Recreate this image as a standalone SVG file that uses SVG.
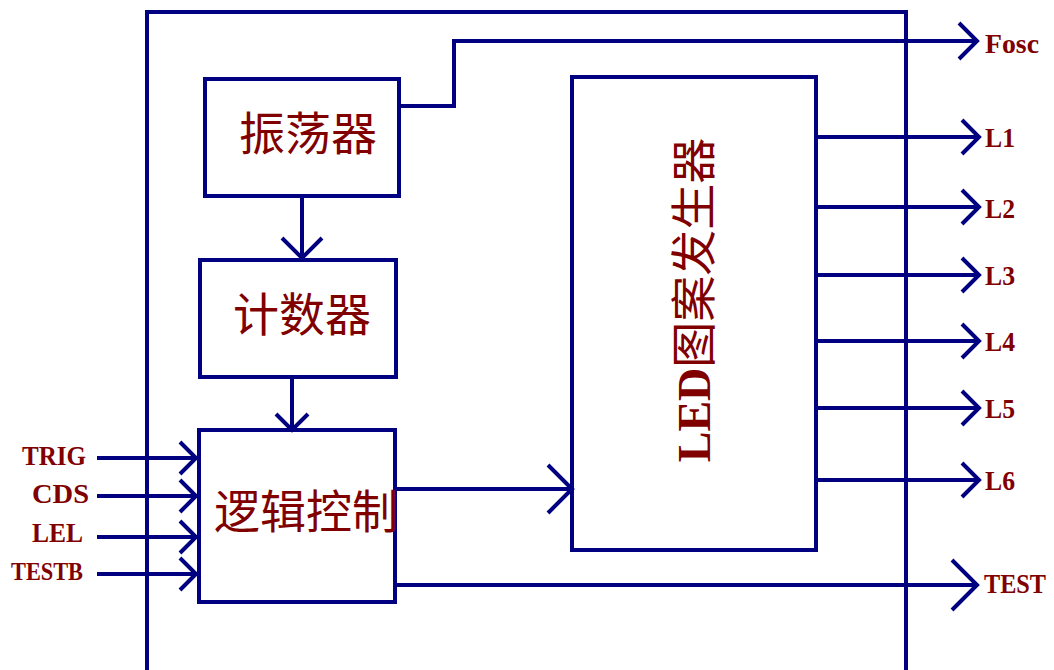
<svg xmlns="http://www.w3.org/2000/svg" width="1054" height="670" viewBox="0 0 1054 670">
<style>
.box{fill:none;stroke:#000080;stroke-width:4}
.ln{fill:none;stroke:#000080;stroke-width:4}
.cn{font-family:"Liberation Serif","Noto Sans CJK SC",serif;font-size:46px;fill:#800000}
.lb{font-family:"Liberation Serif",serif;font-weight:bold;font-size:28px;fill:#800000}
</style>
<rect width="1054" height="670" fill="#ffffff"/>
<g id="frame"><path class="box" d="M147,670 V12 H906 V670"/></g>
<g id="osc"><rect class="box" x="205" y="79" width="194" height="117"/><text class="cn" x="308" y="150" text-anchor="middle">振荡器</text></g>
<g id="counter"><rect class="box" x="200" y="260" width="196" height="117"/><text class="cn" x="302" y="331" text-anchor="middle">计数器</text></g>
<g id="logic"><rect class="box" x="199" y="430" width="196" height="172"/><text class="cn" x="306" y="528" text-anchor="middle">逻辑控制</text></g>
<g id="led"><rect class="box" x="572" y="77" width="244" height="473"/><text class="cn" transform="translate(710,300) rotate(-90)" x="0" y="0" text-anchor="middle"><tspan font-weight="bold">LED</tspan>图案发生器</text></g>
<g id="connectors">
<path class="ln" d="M399,106 H454 V41 H976"/><path class="ln" d="M959,23 L977,41 L959,59"/>
<path class="ln" d="M302,196 V258"/><path class="ln" d="M282,238 L302,258 L322,238"/>
<path class="ln" d="M292,377 V429"/><path class="ln" d="M276,414 L292,430 L308,414"/>
<path class="ln" d="M395,489 H571"/><path class="ln" d="M548,465 L572,489 L548,513"/>
<path class="ln" d="M395,585 H977"/><path class="ln" d="M952,560 L977,585 L952,610"/>
<path class="ln" d="M97,458 H195"/><path class="ln" d="M180,442 L196,458 L180,474"/>
<path class="ln" d="M97,496 H195"/><path class="ln" d="M180,480 L196,496 L180,512"/>
<path class="ln" d="M97,537 H195"/><path class="ln" d="M180,521 L196,537 L180,553"/>
<path class="ln" d="M97,574 H195"/><path class="ln" d="M180,558 L196,574 L180,590"/>
<path class="ln" d="M816,137 H979"/><path class="ln" d="M962,120 L979,137 L962,154"/>
<path class="ln" d="M816,207 H979"/><path class="ln" d="M962,190 L979,207 L962,224"/>
<path class="ln" d="M816,275 H979"/><path class="ln" d="M962,258 L979,275 L962,292"/>
<path class="ln" d="M816,341 H979"/><path class="ln" d="M962,324 L979,341 L962,358"/>
<path class="ln" d="M816,408 H979"/><path class="ln" d="M962,391 L979,408 L962,425"/>
<path class="ln" d="M816,480 H979"/><path class="ln" d="M962,463 L979,480 L962,497"/>
</g>
<g id="labels">
<text class="lb" x="22" y="465" textLength="64" lengthAdjust="spacingAndGlyphs">TRIG</text>
<text class="lb" x="32" y="503" textLength="57" lengthAdjust="spacingAndGlyphs">CDS</text>
<text class="lb" x="32" y="542" textLength="51" lengthAdjust="spacingAndGlyphs">LEL</text>
<text class="lb" x="11" y="580" textLength="72" lengthAdjust="spacingAndGlyphs" style="font-size:26px">TESTB</text>
<text class="lb" x="985" y="53" textLength="54" lengthAdjust="spacingAndGlyphs">Fosc</text>
<text class="lb" x="985" y="147" textLength="30" lengthAdjust="spacingAndGlyphs">L1</text>
<text class="lb" x="985" y="218" textLength="30" lengthAdjust="spacingAndGlyphs">L2</text>
<text class="lb" x="985" y="285" textLength="30" lengthAdjust="spacingAndGlyphs">L3</text>
<text class="lb" x="985" y="351" textLength="30" lengthAdjust="spacingAndGlyphs">L4</text>
<text class="lb" x="985" y="418" textLength="30" lengthAdjust="spacingAndGlyphs">L5</text>
<text class="lb" x="985" y="490" textLength="30" lengthAdjust="spacingAndGlyphs">L6</text>
<text class="lb" x="984" y="593" textLength="62" lengthAdjust="spacingAndGlyphs">TEST</text>
</g>
</svg>
